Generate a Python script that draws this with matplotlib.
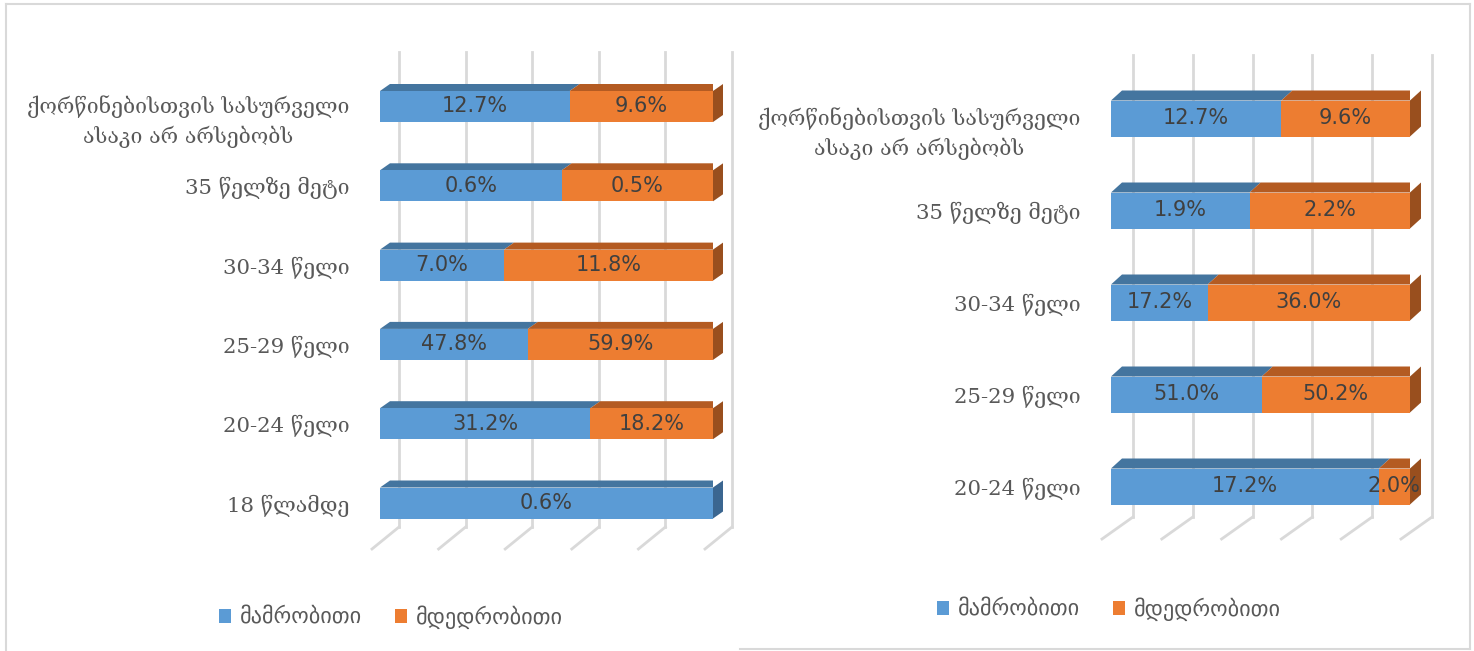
import matplotlib
matplotlib.use("Agg")
import matplotlib.pyplot as plt
import numpy as np
from matplotlib.lines import Line2D
from matplotlib.transforms import ScaledTranslation

W, H = 1474, 651

cats_left = ["18 წლამდე", "20-24 წელი", "25-29 წელი", "30-34 წელი",
             "35 წელზე მეტი", "ქორწინებისთვის სასურველი\nასაკი არ არსებობს"]
male_left = [0.6, 31.2, 47.8, 7.0, 0.6, 12.7]
female_left = [0.0, 18.2, 59.9, 11.8, 0.5, 9.6]

cats_right = ["20-24 წელი", "25-29 წელი", "30-34 წელი",
              "35 წელზე მეტი", "ქორწინებისთვის სასურველი\nასაკი არ არსებობს"]
male_right = [17.2, 51.0, 17.2, 1.9, 12.7]
female_right = [2.0, 50.2, 36.0, 2.2, 9.6]

series = ["მამრობითი", "მდედრობითი"]

blue = ("#5B9BD5", "#44759F", "#3B6690")      # front, top, side
orange = ("#ED7D31", "#B45B22", "#994F1E")
grid_c = "#D9D9D9"
txt_c = "#595959"
val_c = "#404040"

plt.rcParams["font.family"] = ["DejaVu Sans"]
fig = plt.figure(figsize=(W / 100, H / 100), dpi=100)


def draw_panel(cats, male, female, x0, x1, yc0, step, bar_px, dep, wall,
               top, back_bot, front_bot, front_dx, leg_xy, pad):
    ax = fig.add_axes([x0 / W, 1 - front_bot / H, (x1 - x0) / W, (front_bot - top) / H])
    sx = 1 / (x1 - x0)
    sy = 1 / step
    ymin, ymax = (yc0 - front_bot) * sy, (yc0 - top) * sy
    ax.set_xlim(0, 1)
    ax.set_ylim(ymin, ymax)
    for s in ax.spines.values():
        s.set_visible(False)

    # back wall / floor gridlines
    yb = (yc0 - back_bot) * sy
    for t in np.linspace(0, 1, 6):
        xb = t + wall * sx
        ax.plot([xb, xb], [ymax, yb], color=grid_c, lw=2, zorder=1, clip_on=False)
        ax.plot([xb, t + front_dx * sx], [yb, ymin], color=grid_c, lw=2,
                zorder=1, clip_on=False)

    male = np.array(male)
    female = np.array(female)
    tot = male + female
    fm = male / tot
    ff = female / tot
    y = np.arange(len(cats))
    h = bar_px * sy
    ddx, ddy = dep[0] * sx, dep[1] * sy

    b1 = ax.barh(y, fm, height=h, color=blue[0], zorder=3)
    b2 = ax.barh(y, ff, left=fm, height=h, color=orange[0], zorder=3)

    for i in range(len(cats)):
        yt = y[i] + h / 2
        segs = [(0, fm[i], blue), (fm[i], 1, orange)]
        for a, b, col in segs:
            if b - a <= 0:
                continue
            ax.fill([a, a + ddx, b + ddx, b], [yt, yt + ddy, yt + ddy, yt],
                    color=col[1], zorder=2, lw=0)
        side = orange if ff[i] > 0 else blue
        ax.fill([1, 1 + ddx, 1 + ddx, 1],
                [y[i] - h / 2, y[i] - h / 2 + ddy, yt + ddy, yt],
                color=side[2], zorder=2, lw=0, clip_on=False)
        if male[i] > 0:
            ax.text(fm[i] / 2, y[i], f"{male[i]:.1f}%", ha="center", va="center",
                    fontsize=15, color=val_c, zorder=5)
        if female[i] > 0:
            ax.text(fm[i] + ff[i] / 2, y[i], f"{female[i]:.1f}%", ha="center",
                    va="center", fontsize=15, color=val_c, zorder=5)

    ax.set_xticks([])
    ax.set_yticks(y)
    ax.set_yticklabels(cats, fontsize=15.3, color=txt_c,
                       family=["DejaVu Serif", "DejaVu Sans"])
    ax.tick_params(axis="y", length=0, pad=pad)
    for lab in ax.get_yticklabels():
        if "\n" in lab.get_text():
            lab.set_multialignment("center")
            lab.set_linespacing(1.45)
            lab.set_transform(lab.get_transform()
                              + ScaledTranslation(0, -9 / 100, fig.dpi_scale_trans))

    leg = ax.legend([b1, b2], series, loc="center", ncol=2, frameon=False,
                    bbox_to_anchor=(leg_xy[0] / W, 1 - leg_xy[1] / H),
                    bbox_transform=fig.transFigure, fontsize=16,
                    handlelength=0.55, handleheight=0.55, handletextpad=0.4,
                    columnspacing=1.5)
    for t in leg.get_texts():
        t.set_color(txt_c)
    return ax


draw_panel(cats_left, male_left, female_left, 380, 713, 503, 79.3, 31,
           (10, 7), 19, 52, 527, 549, -8, (391, 617), 22)
draw_panel(cats_right, male_right, female_right, 1111, 1410, 486.5, 92, 36,
           (11, 10), 22, 55, 517, 539, -9, (1109, 609), 22)

# panel frames
for (xa, ya, xb, yb) in [(6, 4, 1470, 4), (6, 4, 6, 651), (1470, 4, 1470, 649),
                         (740, 649, 1470, 649)]:
    fig.add_artist(Line2D([xa / W, xb / W], [1 - ya / H, 1 - yb / H],
                          color=grid_c, lw=1.5))

fig.savefig("out.png", dpi=100)
